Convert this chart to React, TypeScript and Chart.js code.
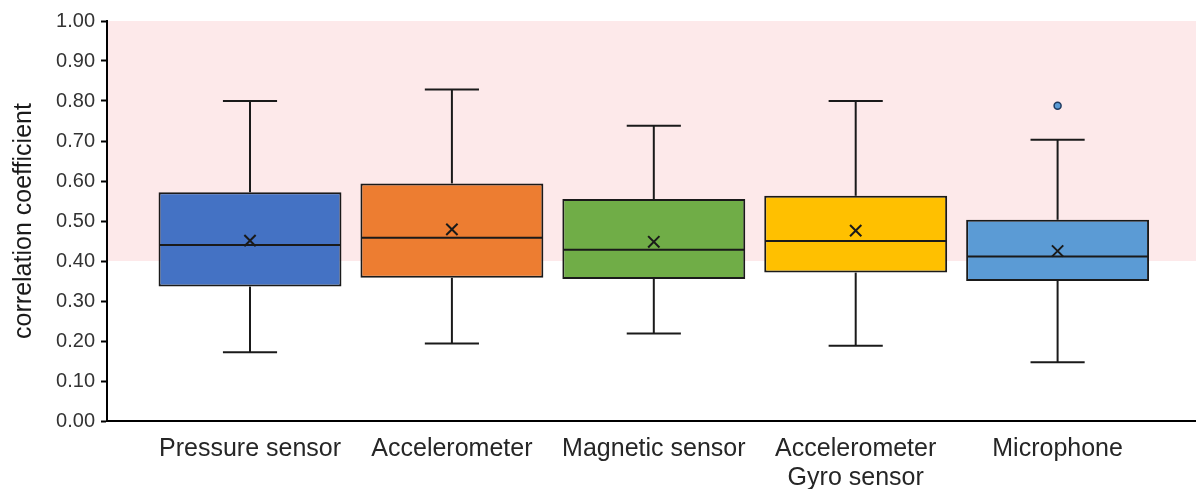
import React, { useEffect, useRef } from "react";
import { Chart, registerables } from "chart.js";

Chart.register(...registerables);

// ---- Data ----
const categories: string[][] = [
  ["Pressure sensor"],
  ["Accelerometer"],
  ["Magnetic sensor"],
  ["Accelerometer", "Gyro sensor"],
  ["Microphone"],
];
const whiskerLow = [0.172, 0.194, 0.219, 0.188, 0.147];
const q1 = [0.336, 0.358, 0.355, 0.371, 0.35];
const median = [0.44, 0.458, 0.428, 0.45, 0.411];
const q3 = [0.572, 0.594, 0.555, 0.563, 0.503];
const whiskerHigh = [0.8, 0.829, 0.738, 0.8, 0.703];
const mean = [0.451, 0.479, 0.448, 0.476, 0.425];
const outlierCategory = [4];
const outlierValue = [0.788];
const bandRange = [0.4, 1.0];
const yMin = 0;
const yMax = 1;
const yStep = 0.1;

const boxColors = ["#4472C4", "#ED7D31", "#70AD47", "#FFC000", "#5B9BD5"];
const FONT = "'Liberation Sans', Arial, sans-serif";

const boxExtras = {
  id: "boxExtras",
  beforeDraw(chart: any) {
    const { ctx, chartArea, scales } = chart;
    const y = scales.y;
    const top = y.getPixelForValue(bandRange[1]);
    const bottom = y.getPixelForValue(bandRange[0]);
    ctx.save();
    ctx.fillStyle = "#FDE9EA";
    ctx.fillRect(chartArea.left, top, chartArea.right - chartArea.left, bottom - top);
    ctx.restore();
  },
  afterDatasetDraw(chart: any, args: any) {
    if (args.index !== 0) return;
    const { ctx } = chart;
    const y = chart.scales.y;
    const meta = chart.getDatasetMeta(0);
    ctx.save();
    ctx.strokeStyle = "#1a1a1a";
    ctx.lineWidth = 2;
    const line = (x1: number, y1: number, x2: number, y2: number) => {
      ctx.beginPath();
      ctx.moveTo(x1, y1);
      ctx.lineTo(x2, y2);
      ctx.stroke();
    };
    meta.data.forEach((bar: any, i: number) => {
      const { x, width } = bar.getProps(["x", "width"], true);
      const left = x - width / 2 + 1;
      const right = x + width / 2 - 1;
      const ym = y.getPixelForValue(median[i]);
      line(left, ym, right, ym);
      const capHalf = width * 0.148;
      const yq3 = y.getPixelForValue(q3[i]);
      const yq1 = y.getPixelForValue(q1[i]);
      const yHi = y.getPixelForValue(whiskerHigh[i]);
      const yLo = y.getPixelForValue(whiskerLow[i]);
      line(x, yq3, x, yHi);
      line(x - capHalf, yHi, x + capHalf, yHi);
      line(x, yq1, x, yLo);
      line(x - capHalf, yLo, x + capHalf, yLo);
    });
    ctx.restore();
  },
};

export default function App() {
  const ref = useRef<HTMLCanvasElement>(null);

  useEffect(() => {
    const chart = new Chart(ref.current as HTMLCanvasElement, {
      type: "bar",
      data: {
        datasets: [
          {
            type: "bar",
            order: 3,
            data: categories.map((_, i) => ({ x: i, y: [q1[i], q3[i]] })) as any,
            backgroundColor: boxColors,
            borderColor: "#1a1a1a",
            borderWidth: 2,
            borderSkipped: false,
            categoryPercentage: 1,
            barPercentage: 0.906,
          } as any,
          {
            type: "scatter",
            order: 1,
            data: categories.map((_, i) => ({ x: i, y: mean[i] })),
            pointStyle: "crossRot",
            radius: 8,
            borderColor: "#1a1a1a",
            borderWidth: 2,
            backgroundColor: "#1a1a1a",
          } as any,
          {
            type: "scatter",
            order: 0,
            data: outlierCategory.map((c, i) => ({ x: c, y: outlierValue[i] })),
            pointStyle: "circle",
            radius: 3.5,
            backgroundColor: "#5B9BD5",
            borderColor: "#1F3A5F",
            borderWidth: 1.5,
          } as any,
        ],
      },
      options: {
        animation: false,
        responsive: false,
        layout: { autoPadding: false, padding: { top: 21, left: 0, right: 0, bottom: 0 } },
        plugins: {
          legend: { display: false },
          tooltip: { enabled: false },
        },
        scales: {
          x: {
            type: "linear",
            offset: false,
            bounds: "data",
            min: -0.7083,
            max: 4.6855,
            grid: { display: false, offset: false },
            border: { display: true, color: "#000", width: 2 },
            afterBuildTicks: (scale: any) => {
              scale.ticks = categories.map((_, i) => ({ value: i }));
            },
            afterFit: (scale: any) => {
              scale.height = 68;
              scale.paddingLeft = 0;
              scale.paddingRight = 0;
            },
            ticks: {
              autoSkip: false,
              maxRotation: 0,
              padding: 6,
              color: "#262626",
              font: { family: FONT, size: 25, lineHeight: 1.16 },
              callback: (value: any) => categories[Math.round(Number(value))] ?? "",
            },
          } as any,
          y: {
            type: "linear",
            min: yMin,
            max: yMax,
            grid: {
              display: true,
              drawOnChartArea: false,
              drawTicks: true,
              tickLength: 6,
              tickWidth: 2,
              tickColor: "#000",
            },
            border: { display: true, color: "#000", width: 2 },
            afterFit: (scale: any) => {
              scale.width = 107;
            },
            title: {
              display: true,
              text: "correlation coefficient",
              color: "#1a1a1a",
              font: { family: FONT, size: 25 },
              padding: { top: 9, bottom: 0 },
            },
            ticks: {
              stepSize: yStep,
              padding: 6,
              color: "#333",
              font: { family: FONT, size: 20 },
              callback: (value: any) => Number(value).toFixed(2),
            },
          } as any,
        },
      },
      plugins: [boxExtras],
    });
    return () => chart.destroy();
  }, []);

  return (
    <div style={{ position: "fixed", left: 0, top: 0, width: 1196, height: 489 }}>
      <canvas
        ref={ref}
        width={1196}
        height={489}
        style={{ display: "block", width: 1196, height: 489 }}
      />
    </div>
  );
}
